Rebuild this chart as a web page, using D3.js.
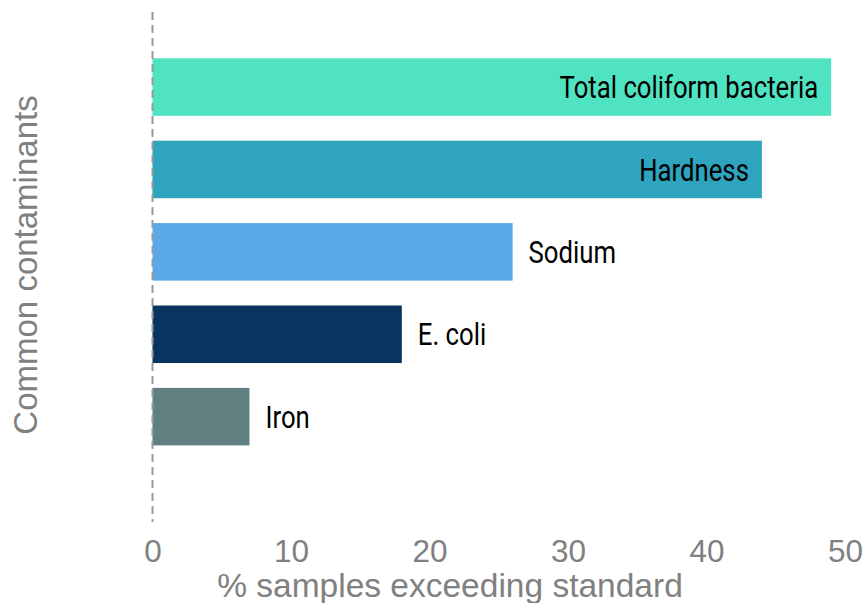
<!DOCTYPE html>
<html><head><meta charset="utf-8">
<script src="https://cdn.jsdelivr.net/npm/d3@7"></script>
<style>body{margin:0;background:#fff}</style>
</head><body>
<svg id="c" width="864" height="603"></svg>
<script>
const categories = ["Total coliform bacteria","Hardness","Sodium","E. coli","Iron"];
const values = [49, 44, 26, 18, 7];
const colors = ["#50E3C2","#2EA4BF","#5BA8E8","#08355F","#607F80"];
const xTicks = [0,10,20,30,40,50];
const insideLabel = [true,true,false,false,false];

const svg = d3.select("#c");
const x = d3.scaleLinear().domain([0,50]).range([152.5,845]);
const y = d3.scaleBand().domain(categories).range([45.85,457.85]).paddingInner(0.302).paddingOuter(0.151);

const sans = "'Liberation Sans',Arial,sans-serif";
const labFont = "Roboto,'Liberation Sans',sans-serif";
const sx = 0.83;

svg.selectAll("rect.bar").data(categories).join("rect")
  .attr("class","bar")
  .attr("x", x(0)).attr("y", d=>y(d))
  .attr("width", (d,i)=>x(values[i])-x(0))
  .attr("height", y.bandwidth())
  .attr("fill", (d,i)=>colors[i]);

svg.append("line").attr("x1",x(0)).attr("x2",x(0)).attr("y1",12).attr("y2",522)
  .attr("stroke","#999").attr("stroke-width",2).attr("stroke-dasharray","8,5");

svg.selectAll("text.lab").data(categories).join("text")
  .attr("class","lab")
  .attr("transform",(d,i)=>`translate(${insideLabel[i] ? x(values[i])-13 : x(values[i])+16},${y(d)+y.bandwidth()/2}) scale(${sx},1)`)
  .attr("dy","0.36em")
  .attr("text-anchor",(d,i)=> insideLabel[i] ? "end" : "start")
  .attr("font-family",labFont).attr("font-size",31).attr("fill","#000")
  .text(d=>d);

const ax = d3.axisBottom(x).tickValues(xTicks).tickSize(0).tickPadding(0).tickFormat(d3.format("d"));
const g = svg.append("g").attr("transform","translate(0,562)").call(ax);
g.select(".domain").remove();
g.selectAll("text").attr("font-family",sans).attr("font-size",31.5).attr("fill","#808080").attr("dy","0");

svg.append("text").attr("x",450).attr("y",597)
  .attr("text-anchor","middle").attr("font-family",sans).attr("font-size",33.5).attr("fill","#808080")
  .text("% samples exceeding standard");

svg.append("text").attr("transform","translate(37,265) rotate(-90)")
  .attr("text-anchor","middle").attr("font-family",sans).attr("font-size",33).attr("fill","#808080")
  .text("Common contaminants");
</script>
</body></html>
